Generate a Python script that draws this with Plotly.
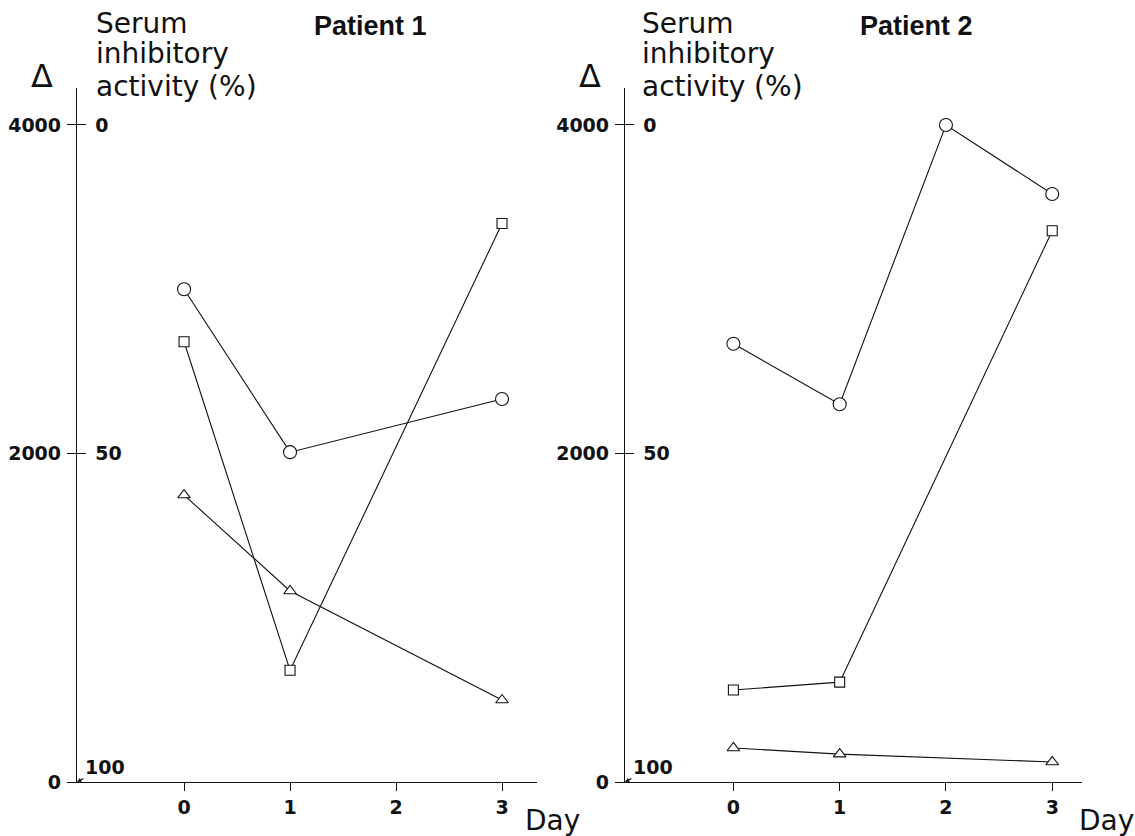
import plotly.graph_objects as go

# ---------------- data ----------------
days_p1 = [0, 1, 3]
p1_circle_pct = [25.0, 49.8, 41.7]      # serum inhibitory activity (%)
p1_square_pct = [33.0, 83.0, 15.0]      # serum inhibitory activity (%)
p1_triangle = [1747, 1163, 499]         # Δ

days_p2_circle = [0, 1, 2, 3]
days_p2 = [0, 1, 3]
p2_circle_pct = [33.3, 42.5, 0.0, 10.5]
p2_square_pct = [86.0, 84.8, 16.1]
p2_triangle = [207, 170, 122]

day_ticks = [0, 1, 2, 3]
delta_ticks = [0, 2000, 4000]
pct_ticks = [0, 50]

W, H = 1135, 836
def px(x):
    return x / W
def py(y):
    return 1 - y / H

NUMFONT = dict(family="DejaVu Sans", size=19, color="#111", weight="bold")
TXTFONT = dict(family="DejaVu Sans", size=28, color="#111")
TITLEFONT = dict(family="Liberation Sans", size=27, color="#111", weight="bold")

fig = go.Figure()

def add_series(x, y, xa, ya, symbol, size):
    fig.add_trace(go.Scatter(
        x=x, y=y, xaxis=xa, yaxis=ya, mode="lines+markers",
        line=dict(color="#111", width=1.1),
        marker=dict(symbol=symbol, size=size, color="white",
                    line=dict(color="#111", width=1.1)),
        showlegend=False, hoverinfo="skip"))

# Patient 1
add_series(days_p1, p1_circle_pct, "x", "y2", "circle", 13)
add_series(days_p1, p1_square_pct, "x", "y2", "square", 10)
add_series(days_p1, p1_triangle, "x", "y", "triangle-up", 11)
# Patient 2
add_series(days_p2_circle, p2_circle_pct, "x2", "y4", "circle", 13)
add_series(days_p2, p2_square_pct, "x2", "y4", "square", 10)
add_series(days_p2, p2_triangle, "x2", "y3", "triangle-up", 11)

ydom = [py(782), py(88)]
yrange = [0, 4225]
prange = [100, 100 - 4225 / 40]

xcommon = dict(showline=True, linecolor="#111", linewidth=1.3, showgrid=False,
               zeroline=False, ticks="outside", ticklen=8, tickwidth=1.2,
               tickcolor="#111", tickvals=day_ticks, tickfont=NUMFONT)
ycommon = dict(showline=True, linecolor="#111", linewidth=1.3, showgrid=False,
               zeroline=False, ticks="outside", ticklen=9, tickwidth=1.2,
               tickcolor="#111", tickvals=delta_ticks, tickfont=NUMFONT,
               range=yrange, domain=ydom, ticklabelstandoff=2)
pcommon = dict(showline=False, showgrid=False, zeroline=False, ticks="inside",
               ticklen=9, tickwidth=1.2, tickcolor="#111", tickvals=pct_ticks,
               tickfont=NUMFONT, range=prange, side="left",
               ticklabelposition="inside", ticklabelstandoff=10)

fig.update_layout(
    width=W, height=H,
    margin=dict(l=0, r=0, t=0, b=0, autoexpand=False),
    plot_bgcolor="white", paper_bgcolor="white",
    showlegend=False,
    xaxis=dict(domain=[px(77), px(537)], range=[-1.01, 3.33], anchor="y", **xcommon),
    yaxis=dict(anchor="x", **ycommon),
    yaxis2=dict(overlaying="y", anchor="x", **pcommon),
    xaxis2=dict(domain=[px(625), px(1082)], range=[-1.02, 3.28], anchor="y3", **xcommon),
    yaxis3=dict(anchor="x2", **ycommon),
    yaxis4=dict(overlaying="y3", anchor="x2", **pcommon),
)

ann = []
def text(x, y, s, font, xanchor="left", yanchor="middle"):
    ann.append(dict(x=px(x), y=py(y), xref="paper", yref="paper", text=s,
                    showarrow=False, font=font, xanchor=xanchor, yanchor=yanchor))

for (axx, serx, patx, ptitle, deltax, dayx) in [
        (77, 96, 312, "Patient 1", 32, 523),
        (625, 642, 858, "Patient 2", 580, 1077)]:
    text(serx - 2, 23, "Serum", TXTFONT)
    text(serx - 2, 53, "inhibitory", TXTFONT)
    text(serx - 2, 86, "activity (%)", TXTFONT)
    text(patx, 26, ptitle, TITLEFONT)
    text(deltax - 3, 76, "Δ", dict(family="DejaVu Sans", size=32, color="#111"))
    text(dayx, 820, "Day", dict(family="DejaVu Sans", size=28, color="#111"))
    ann.append(dict(x=px(axx), y=py(782), xref="paper", yref="paper",
                    text="100", font=NUMFONT, showarrow=True, ax=28, ay=-15,
                    arrowhead=2, arrowsize=0.8, arrowwidth=1.1, arrowcolor="#111",
                    standoff=0, startstandoff=0))

fig.update_layout(annotations=ann)
fig.write_html("out.html", config={"displayModeBar": False},
               post_script="document.body.style.margin='0px';document.body.style.overflow='hidden';")
